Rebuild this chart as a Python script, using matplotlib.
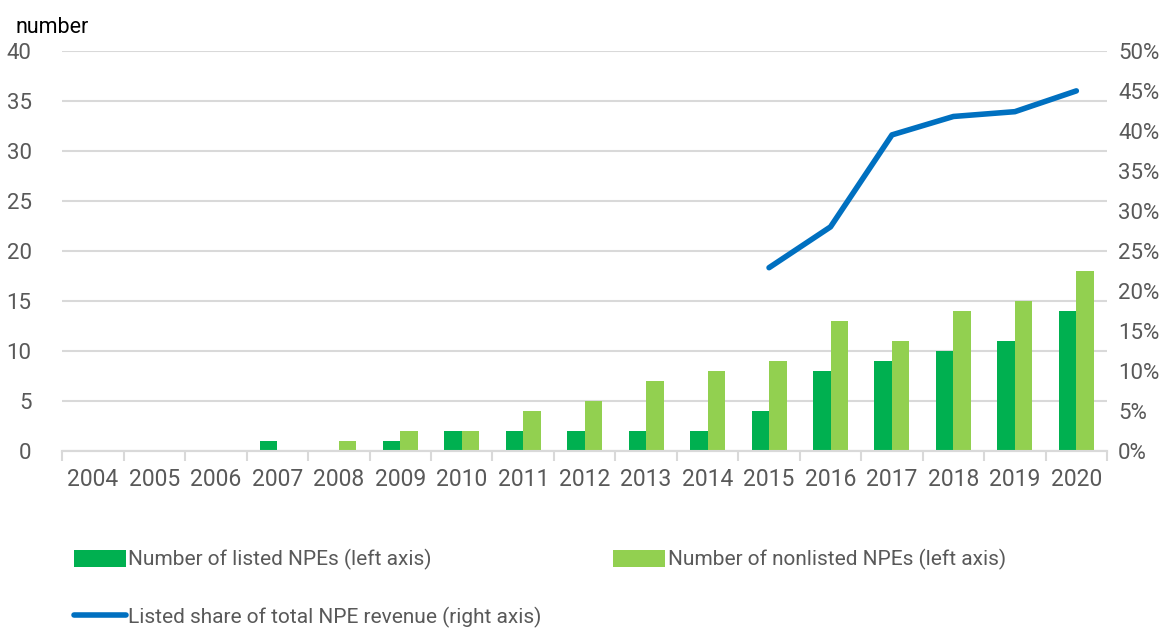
import numpy as np
import matplotlib.pyplot as plt
from matplotlib.ticker import PercentFormatter

years = list(range(2004, 2021))
listed = [0, 0, 0, 1, 0, 1, 2, 2, 2, 2, 2, 4, 8, 9, 10, 11, 14]
nonlisted = [0, 0, 0, 0, 1, 2, 2, 4, 5, 7, 8, 9, 13, 11, 14, 15, 18]
share_years = [2015, 2016, 2017, 2018, 2019, 2020]
share = [22.9, 28.0, 39.5, 41.8, 42.4, 45.0]

plt.rcParams['font.family'] = ['Roboto', 'DejaVu Sans']

green = '#00b050'
lgreen = '#92d050'
blue = '#0070c0'
grid = '#d9d9d9'
tick_col = '#595959'

fig = plt.figure(figsize=(11.74, 6.28), dpi=100)
ax = fig.add_axes([0.053, 0.282, 0.89, 0.637])
ax2 = ax.twinx()

x = np.arange(len(years))
w = 0.285
b1 = ax.bar(x - w / 2, listed, w, color=green, zorder=3, label='Number of listed NPEs (left axis)')
b2 = ax.bar(x + w / 2, nonlisted, w, color=lgreen, zorder=3, label='Number of nonlisted NPEs (left axis)')

sx = [years.index(y) for y in share_years]
ln, = ax2.plot(sx, share, color=blue, lw=4, solid_capstyle='round',
               label='Listed share of total NPE revenue (right axis)')

ax.set_xlim(-0.5, len(years) - 0.5)
ax.set_ylim(0, 40)
ax2.set_ylim(0, 50)
ax.set_yticks(range(0, 41, 5))
ax2.set_yticks(range(0, 51, 5))
ax2.yaxis.set_major_formatter(PercentFormatter(decimals=0))

ax.set_xticks(x)
ax.set_xticklabels([str(y) for y in years])
ax.set_xticks(np.arange(len(years) + 1) - 0.5, minor=True)
ax.tick_params(axis='x', which='major', length=0, pad=12, labelsize=16.5, colors=tick_col)
ax.tick_params(axis='x', which='minor', length=7, color=grid, width=1.5)
ax.tick_params(axis='y', length=0, labelsize=16, colors=tick_col, pad=22)
ax2.tick_params(axis='y', length=0, labelsize=16, colors=tick_col, pad=8)

ax.yaxis.grid(True, color=grid, lw=1.5, zorder=0)
ax.set_axisbelow(True)
for a in (ax, ax2):
    for s in ('top', 'left', 'right'):
        a.spines[s].set_visible(False)
    a.spines['bottom'].set_color(grid)
    a.spines['bottom'].set_linewidth(1.5)

fig.text(0.013, 0.957, 'number', fontsize=15.5, color='black', ha='left', va='center')

leg = fig.legend([b1, ln, b2], [b1.get_label(), ln.get_label(), b2.get_label()],
                 ncol=2, loc='upper left', bbox_to_anchor=(0.047, 0.1555),
                 frameon=False, fontsize=15, labelcolor=tick_col,
                 handlelength=2.5, handleheight=0.9, handletextpad=0.1,
                 columnspacing=3.45, labelspacing=1.75)

fig.savefig('out.png', dpi=100)
